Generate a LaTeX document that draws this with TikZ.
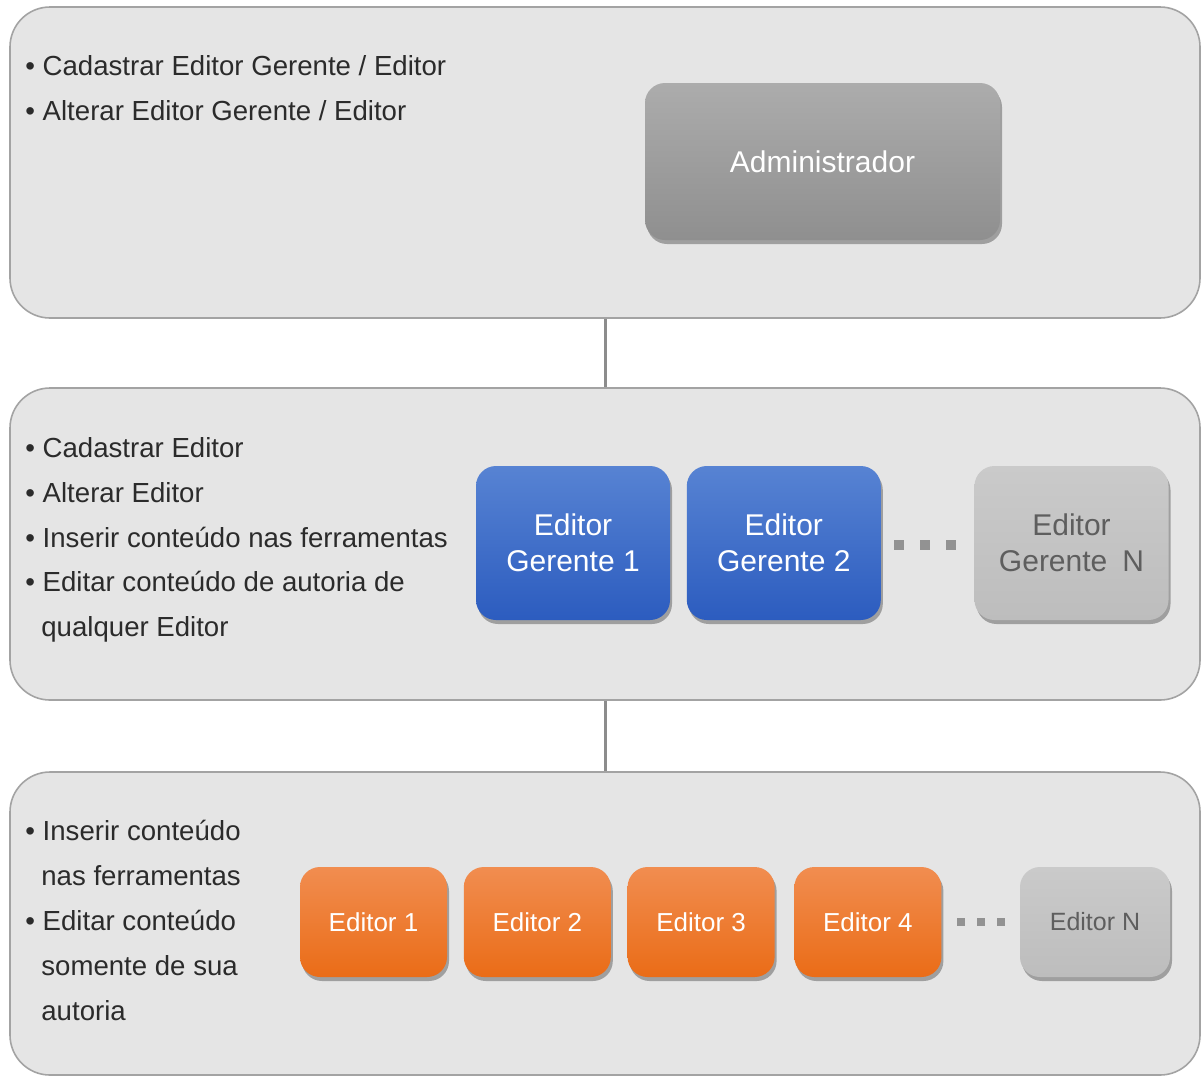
\documentclass[tikz,border=0pt]{standalone}
\usepackage{fontspec}
\setmainfont{Liberation Sans}
\usetikzlibrary{positioning,shadows}

\definecolor{painelfundo}{HTML}{E5E5E5}
\definecolor{painelborda}{HTML}{A3A3A3}
\definecolor{ligacao}{HTML}{8C8C8C}
\definecolor{textoescuro}{HTML}{2B2B2B}
\definecolor{admtopo}{HTML}{ACACAC}
\definecolor{admbase}{HTML}{8F8F8F}
\definecolor{azultopo}{HTML}{5783D3}
\definecolor{azulbase}{HTML}{2C5CBF}
\definecolor{laranjatopo}{HTML}{F18D50}
\definecolor{laranjabase}{HTML}{EA6C17}
\definecolor{cinzatopo}{HTML}{CACACA}
\definecolor{cinzabase}{HTML}{BDBDBD}
\definecolor{cinzatexto}{HTML}{5E5E5E}
\definecolor{pontos}{HTML}{929292}

\begin{document}
\begin{tikzpicture}[x=0.5pt,y=-0.5pt,
    painel/.style={draw=painelborda, line width=0.8pt, fill=painelfundo,
        rounded corners=20pt, minimum width=595pt, inner sep=0pt},
    caixa/.style={rounded corners=10pt, inner sep=0pt, align=center,
        drop shadow={shadow xshift=1pt, shadow yshift=-2pt, opacity=0.3, fill=black}},
    adm/.style={caixa, top color=admtopo, bottom color=admbase, text=white,
        minimum width=177.5pt, minimum height=78.5pt,
        font=\fontsize{15}{18}\selectfont},
    gerente/.style={caixa, top color=azultopo, bottom color=azulbase, text=white,
        minimum width=97pt, minimum height=77pt,
        font=\fontsize{15}{18}\selectfont},
    editor/.style={caixa, top color=laranjatopo, bottom color=laranjabase, text=white,
        minimum width=73.5pt, minimum height=55pt,
        font=\fontsize{13}{16}\selectfont},
    resto/.style={top color=cinzatopo, bottom color=cinzabase, text=cinzatexto},
    item/.style={anchor=base west, inner sep=0pt, text=textoescuro,
        font=\fontsize{13.8}{16}\selectfont},
    ligar/.style={draw=ligacao, line width=1.5pt}]

\useasboundingbox (0,0) rectangle (1203,1077);

% paineis
\node[painel, minimum height=155.5pt] (p1) at (605,162.5) {};
\node[painel, minimum height=156pt]   (p2) at (605,544) {};
\node[painel, minimum height=151.5pt] (p3) at (605,923.5) {};

\draw[ligar] (p1.south) -- (p2.north);
\draw[ligar] (p2.south) -- (p3.north);

% textos
\foreach \x/\y/\t [count=\i] in {25/75/{• Cadastrar Editor Gerente / Editor},
                                 25/120/{• Alterar Editor Gerente / Editor}}
    \node[item] (a\i) at (\x,\y) {\t};

\foreach \x/\y/\t [count=\i] in {25/457/{• Cadastrar Editor},
                                 25/502/{• Alterar Editor},
                                 25/547/{• Inserir conteúdo nas ferramentas},
                                 25/591/{• Editar conteúdo de autoria de},
                                 41/636/{qualquer Editor}}
    \node[item] (b\i) at (\x,\y) {\t};

\foreach \x/\y/\t [count=\i] in {25/840/{• Inserir conteúdo},
                                 41/885/{nas ferramentas},
                                 25/930/{• Editar conteúdo},
                                 41/975/{somente de sua},
                                 41/1020/{autoria}}
    \node[item] (c\i) at (\x,\y) {\t};

% administrador
\node[adm] (adm) at (822.5,161.5) {Administrador};

% editores gerentes
\node[gerente] (eg1) at (573,543) {Editor\\Gerente 1};
\node[gerente, right=8pt of eg1] (eg2) {Editor\\Gerente 2};
\node[gerente, resto] (egn) at (1071.5,543) {Editor\\Gerente\hspace{0.5em}N};
\foreach \x in {899,925,951}
    \fill[pontos] (\x-5,540) rectangle (\x+5,550);

% editores
\node[editor] (e1) at (373.5,922) {Editor 1};
\node[editor, right=8pt of e1] (e2) {Editor 2};
\node[editor, right=8pt of e2] (e3) {Editor 3};
\node[editor, right=9.5pt of e3] (e4) {Editor 4};
\node[editor, resto, minimum width=75pt, font=\fontsize{12.5}{15}\selectfont] (en) at (1095,922) {Editor N};
\foreach \x in {961,981,1001}
    \fill[pontos] (\x-4,918) rectangle (\x+4,926);

\end{tikzpicture}
\end{document}
